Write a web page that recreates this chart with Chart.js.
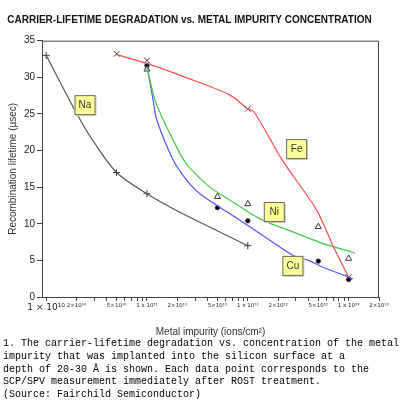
<!DOCTYPE html>
<html>
<head>
<meta charset="utf-8">
<script src="https://cdn.jsdelivr.net/npm/chart.js@4"></script>
<style>
  body { margin: 0; background: #fff; width: 400px; height: 400px; overflow: hidden; position: relative; }
  #wrap { position: absolute; left: 0; top: 0; width: 400px; height: 340px; }
  #caption { position: absolute; left: 3px; top: 338px; font-family: "Liberation Mono", monospace; font-size: 10px; line-height: 12.8px; color: #000; white-space: pre; }
</style>
</head>
<body>
<div id="wrap"><canvas id="chart"></canvas></div>
<div id="caption">1. The carrier-lifetime degradation vs. concentration of the metal
impurity that was implanted into the silicon surface at a
depth of 20-30 Å is shown. Each data point corresponds to the
SCP/SPV measurement immediately after ROST treatment.
(Source: Fairchild Semiconductor)</div>
<script>
  // measured points (markers)
  const naX = [1e10, 5e10, 1e11, 1e12];
  const naY = [33.0, 17.0, 14.1, 7.0];
  const feX = [5e10, 1e11, 1e12, 1e13];
  const feY = [33.2, 32.3, 25.7, 2.7];
  const niX = [1e11, 5e11, 1e12, 5e12, 1e13];
  const niY = [31.1, 13.7, 12.7, 9.6, 5.25];
  const cuX = [1e11, 5e11, 1e12, 5e12, 1e13];
  const cuY = [31.6, 12.2, 10.4, 4.9, 2.4];

  // fitted curves
  const naCurveX = [1e10, 2e10, 2.9e10, 5e10, 1e11, 2.1e11, 1e12];
  const naCurveY = [33.0, 25.1, 21.4, 17.0, 14.1, 11.6, 7.0];
  const feCurveX = [5e10, 1e11, 2.3e11, 6.6e11, 1e12, 1.15e12, 2.2e12, 4.8e12, 7.1e12, 1e13];
  const feCurveY = [33.1, 31.9, 30.1, 27.6, 25.7, 25.3, 18.7, 11.9, 6.8, 2.7];
  const niCurveX = [1e11, 1.2e11, 1.45e11, 1.82e11, 2.27e11, 2.67e11, 4.2e11, 6.2e11, 1.35e12, 2.8e12, 5.1e12, 1.15e13];
  const niCurveY = [31.4, 26.9, 24.2, 21.4, 18.9, 17.6, 15.0, 13.5, 10.6, 8.9, 7.5, 6.0];
  const cuCurveX = [1e11, 1.15e11, 1.25e11, 1.82e11, 2.46e11, 3.35e11, 6.6e11, 1.6e12, 2.8e12, 4e12, 5.5e12, 1.1e13];
  const cuCurveY = [31.5, 26.9, 24.2, 18.7, 16.0, 14.1, 11.4, 7.9, 5.7, 5.0, 4.1, 2.5];

  // box labels
  const labelNames = ["Na", "Fe", "Ni", "Cu"];
  const labelX = [2.43e10, 3.05e12, 1.83e12, 2.8e12];
  const labelY = [26.2, 20.2, 11.6, 4.25];

  // x axis ticks
  const xLabelValues = [1e10, 2e10, 5e10, 1e11, 2e11, 5e11, 1e12, 2e12, 5e12, 1e13, 2e13];
  const xLabelTexts = ["1 × 10¹⁰", "2×10¹⁰", "5×10¹⁰", "1 x 10¹¹", "2×10¹¹", "5×10¹¹", "1 x 10¹²", "2×10¹²", "5×10¹²", "1 x 10¹³", "2×10¹³"];

  const zip = (xs, ys) => xs.map((x, i) => ({ x: x, y: ys[i] }));

  function curve(xs, ys, color) {
    return {
      data: zip(xs, ys),
      showLine: true,
      borderColor: color,
      borderWidth: 1.2,
      pointRadius: 0,
      tension: 0.3
    };
  }

  function markers(xs, ys, style, fill, radius) {
    return {
      data: zip(xs, ys),
      showLine: false,
      pointStyle: style,
      pointRadius: radius,
      pointBorderColor: "#333",
      pointBackgroundColor: fill,
      pointBorderWidth: 1
    };
  }

  const frameAndLabels = {
    id: "frameAndLabels",
    afterDatasetsDraw(chart) {
      const ctx = chart.ctx;
      const a = chart.chartArea;
      ctx.save();
      ctx.strokeStyle = "#444";
      ctx.lineWidth = 1;
      ctx.beginPath();
      ctx.moveTo(a.left, a.top + 0.5);
      ctx.lineTo(a.right - 0.5, a.top + 0.5);
      ctx.lineTo(a.right - 0.5, a.bottom);
      ctx.stroke();

      const xs = chart.scales.x, ys = chart.scales.y;
      ctx.font = "10px 'Liberation Sans', Arial, sans-serif";
      ctx.textAlign = "center";
      ctx.textBaseline = "middle";
      labelNames.forEach((name, i) => {
        const cx = xs.getPixelForValue(labelX[i]);
        const cy = ys.getPixelForValue(labelY[i]);
        const w = 21, h = 20;
        ctx.fillStyle = "#ccc";
        ctx.fillRect(cx - w / 2 + 1, cy - h / 2 + 1, w, h);
        ctx.fillStyle = "#ffff99";
        ctx.fillRect(cx - w / 2, cy - h / 2, w, h);
        ctx.strokeStyle = "#666";
        ctx.strokeRect(cx - w / 2 + 0.5, cy - h / 2 + 0.5, w - 1, h - 1);
        ctx.fillStyle = "#333";
        ctx.fillText(name, cx, cy);
      });
      ctx.restore();
    }
  };

  const ctx = document.getElementById("chart").getContext("2d");
  new Chart(ctx, {
    type: "scatter",
    data: {
      datasets: [
        curve(naCurveX, naCurveY, "#555"),
        curve(feCurveX, feCurveY, "#ff4d4d"),
        curve(niCurveX, niCurveY, "#44cc44"),
        curve(cuCurveX, cuCurveY, "#5555ff"),
        markers(naX, naY, "cross", "#333", 3.5),
        markers(feX, feY, "crossRot", "#333", 4),
        markers(niX, niY, "triangle", "#fff", 3.5),
        markers(cuX, cuY, "circle", "#000", 2.2)
      ]
    },
    options: {
      responsive: true,
      maintainAspectRatio: false,
      animation: false,
      layout: { padding: { left: 0, right: 21, top: 0, bottom: 0 } },
      plugins: {
        legend: { display: false },
        tooltip: { enabled: false },
        title: {
          display: true,
          text: "CARRIER-LIFETIME DEGRADATION vs. METAL IMPURITY CONCENTRATION",
          color: "#111",
          font: { family: "'Liberation Sans', Arial, sans-serif", size: 10, weight: "bold" },
          padding: { top: 14, bottom: 14.7 }
        }
      },
      scales: {
        x: {
          type: "logarithmic",
          min: 9.1e9,
          max: 2e13,
          afterFit: (s) => { s.height = 43; },
          afterBuildTicks: (s) => {
            const vals = [];
            for (let e = 10; e <= 12; e++) {
              for (let m = 1; m <= 9; m++) vals.push(m * Math.pow(10, e));
            }
            vals.push(1e13, 2e13);
            s.ticks = vals.map(v => ({ value: v }));
          },
          border: { display: true, color: "#444" },
          grid: { drawOnChartArea: false, drawTicks: true, tickLength: 4, color: "#444" },
          ticks: {
            autoSkip: false,
            maxRotation: 0,
            padding: 1,
            color: "#222",
            font: (c) => ({ family: "'DejaVu Sans', sans-serif", size: c.tick && c.tick.value === 1e10 ? 9 : 5.5 }),
            callback: (v) => {
              const i = xLabelValues.findIndex(t => Math.abs(t - v) / t < 1e-6);
              return i >= 0 ? xLabelTexts[i] : "";
            }
          },
          title: {
            display: true,
            text: "Metal impurity (ions/cm²)",
            color: "#333",
            font: { family: "'Liberation Sans', Arial, sans-serif", size: 10 },
            padding: { top: 0, bottom: 2 }
          }
        },
        y: {
          min: 0,
          max: 35,
          afterFit: (s) => { s.width = 42; },
          border: { display: true, color: "#444" },
          grid: { drawOnChartArea: false, drawTicks: true, tickLength: 5, color: "#444" },
          ticks: {
            stepSize: 5,
            padding: 2,
            color: "#222",
            font: { family: "'Liberation Sans', Arial, sans-serif", size: 10 }
          },
          title: {
            display: true,
            text: "Recombination lifetime (µsec)",
            color: "#333",
            font: { family: "'Liberation Sans', Arial, sans-serif", size: 10 },
            padding: { top: 7, bottom: 0 }
          }
        }
      }
    },
    plugins: [frameAndLabels]
  });
</script>
</body>
</html>
